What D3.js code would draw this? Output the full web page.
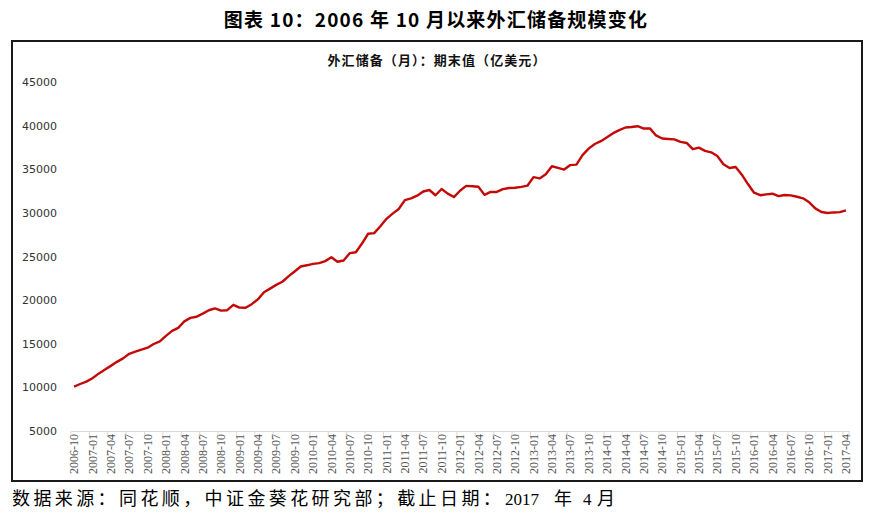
<!DOCTYPE html>
<html><head><meta charset="utf-8">
<script src="https://cdn.jsdelivr.net/npm/d3@7/dist/d3.min.js"></script>
<style>body{margin:0;background:#fff;} svg{display:block;}</style>
</head><body>
<svg id="c" width="870" height="517"></svg>
<script>
const months = [
"2006-10","2006-11","2006-12",
"2007-01","2007-02","2007-03","2007-04","2007-05","2007-06","2007-07","2007-08","2007-09","2007-10","2007-11","2007-12",
"2008-01","2008-02","2008-03","2008-04","2008-05","2008-06","2008-07","2008-08","2008-09","2008-10","2008-11","2008-12",
"2009-01","2009-02","2009-03","2009-04","2009-05","2009-06","2009-07","2009-08","2009-09","2009-10","2009-11","2009-12",
"2010-01","2010-02","2010-03","2010-04","2010-05","2010-06","2010-07","2010-08","2010-09","2010-10","2010-11","2010-12",
"2011-01","2011-02","2011-03","2011-04","2011-05","2011-06","2011-07","2011-08","2011-09","2011-10","2011-11","2011-12",
"2012-01","2012-02","2012-03","2012-04","2012-05","2012-06","2012-07","2012-08","2012-09","2012-10","2012-11","2012-12",
"2013-01","2013-02","2013-03","2013-04","2013-05","2013-06","2013-07","2013-08","2013-09","2013-10","2013-11","2013-12",
"2014-01","2014-02","2014-03","2014-04","2014-05","2014-06","2014-07","2014-08","2014-09","2014-10","2014-11","2014-12",
"2015-01","2015-02","2015-03","2015-04","2015-05","2015-06","2015-07","2015-08","2015-09","2015-10","2015-11","2015-12",
"2016-01","2016-02","2016-03","2016-04","2016-05","2016-06","2016-07","2016-08","2016-09","2016-10","2016-11","2016-12",
"2017-01","2017-02","2017-03","2017-04"];
const reserves = [
10096,10387,10663,
11047,11574,12020,12465,12927,13326,13852,14086,14336,14549,14970,15283,
15898,16471,16822,17566,17970,18088,18452,18842,19056,18797,18847,19460,
19135,19121,19537,20089,20895,21316,21746,22108,22726,23283,23856,23992,
24153,24247,24471,24905,24395,24543,25380,25483,26483,27608,27684,28473,
29316,29914,30447,31464,31661,31975,32452,32625,32017,32738,32209,31811,
32536,33096,33050,32988,32061,32400,32400,32729,32851,32874,32977,33116,
34101,33952,34426,35345,35148,34967,35478,35530,36627,37363,37895,38213,
38666,39137,39481,39788,39839,39932,39662,39688,38877,38529,38473,38430,
38134,38015,37300,37481,37111,36938,36513,35574,35141,35255,34383,33304,
32309,32023,32126,32197,31917,32052,32011,31852,31664,31206,30516,30105,
29982,30051,30091,30295];
const yTicks = [5000,10000,15000,20000,25000,30000,35000,40000,45000];
const xTickLabels = months.filter((m,i)=>i%3===0);
const titleText = "图表 10：2006 年 10 月以来外汇储备规模变化";
const subtitleText = "外汇储备（月）：期末值（亿美元）";

const svg = d3.select("#c");
const x = d3.scaleBand().domain(months).range([71, 849]).padding(0);
const y = d3.scaleLinear().domain([5000, 45000]).range([431, 82]);

// title
svg.append("text").attr("x", 436).attr("y", 27).attr("text-anchor","middle")
  .attr("font-family","'Noto Sans CJK SC', sans-serif").attr("font-weight","bold")
  .attr("font-size", 19).attr("letter-spacing", 1.2).attr("fill","#000")
  .style("white-space","pre").text(titleText);

// frame
svg.append("rect").attr("x", 12).attr("y", 41).attr("width", 850).attr("height", 440)
  .attr("fill","none").attr("stroke","#1a1a1a").attr("stroke-width", 2);

// subtitle
svg.append("text").attr("x", 437).attr("y", 65).attr("text-anchor","middle")
  .attr("font-family","'Noto Sans CJK SC', sans-serif").attr("font-weight","bold")
  .attr("font-size", 13).attr("letter-spacing", 1.1).attr("fill","#111").text(subtitleText);

// y axis labels
const yAxis = d3.axisLeft(y).tickValues(yTicks).tickSize(0).tickPadding(0).tickFormat(d3.format("d"));
const gy = svg.append("g").attr("transform","translate(57,0)").call(yAxis);
gy.select(".domain").remove();
gy.selectAll("text").attr("font-family","'DejaVu Sans', sans-serif").attr("font-size", 11).attr("fill","#333");

// x axis
const xAxis = d3.axisBottom(x).tickValues(xTickLabels).tickSize(0).tickPadding(0);
const gx = svg.append("g").attr("transform","translate(0,431)").call(xAxis);
gx.select(".domain").attr("stroke","#d9d9d9").attr("stroke-width",1);
gx.selectAll(".tick text")
  .attr("transform","rotate(-90)")
  .attr("text-anchor","end")
  .attr("x", -3).attr("y", 0).attr("dy","0.35em")
  .attr("font-family","'Liberation Serif', serif").attr("font-size", 12).attr("fill","#555");
// boundary tick marks
svg.append("g").selectAll("line").data(xTickLabels.concat(["__end"])).join("line")
  .attr("x1", d => d === "__end" ? x.range()[1] : x(d))
  .attr("x2", d => d === "__end" ? x.range()[1] : x(d))
  .attr("y1", 431).attr("y2", 436).attr("stroke","#d9d9d9").attr("stroke-width",1);

// line
const line = d3.line().x((d,i)=>x(months[i]) + x.bandwidth()/2).y(d=>y(d));
svg.append("path").datum(reserves).attr("d", line)
  .attr("fill","none").attr("stroke","#c40a08").attr("stroke-width", 2.4).attr("stroke-linejoin","round");

// footer
const footer = svg.append("g").attr("font-size", 18).attr("fill","#000");
footer.append("text").attr("x", 12).attr("y", 505)
  .attr("font-family","'Noto Sans CJK SC', sans-serif").attr("letter-spacing", 3.4)
  .text("数据来源：同花顺，中证金葵花研究部；截止日期：");
footer.append("text").attr("x", 505).attr("y", 505)
  .attr("font-family","'Liberation Serif', serif").attr("font-size", 17).text("2017");
footer.append("text").attr("x", 554).attr("y", 505)
  .attr("font-family","'Noto Sans CJK SC', sans-serif").text("年");
footer.append("text").attr("x", 583).attr("y", 505)
  .attr("font-family","'Liberation Serif', serif").attr("font-size", 17).text("4");
footer.append("text").attr("x", 597).attr("y", 505)
  .attr("font-family","'Noto Sans CJK SC', sans-serif").text("月");
</script>
</body></html>
